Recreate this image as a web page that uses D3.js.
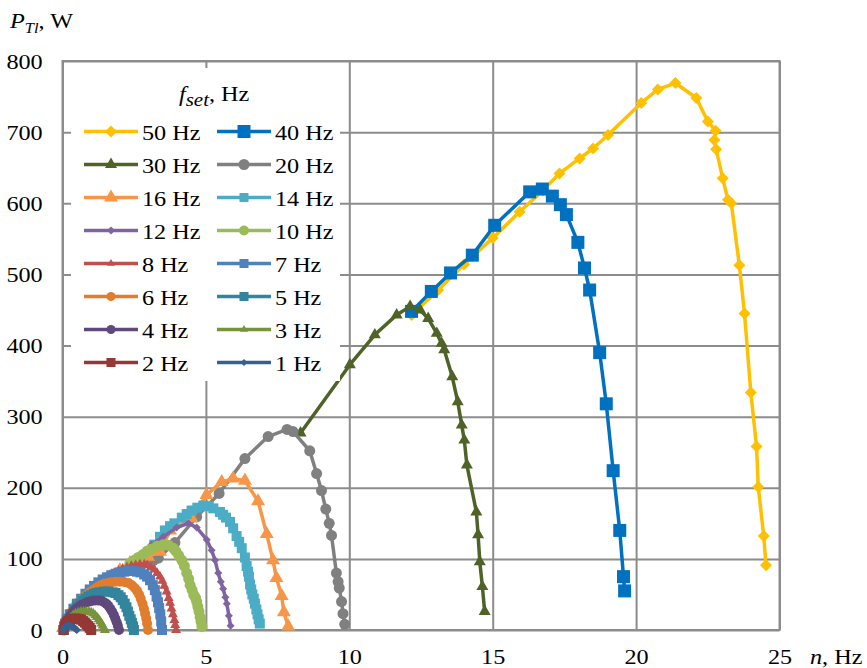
<!DOCTYPE html>
<html>
<head>
<meta charset="utf-8">
<script src="https://cdn.jsdelivr.net/npm/d3@7"></script>
<style>
  body { margin: 0; background: #fff; }
  svg { display: block; }
  svg text { font-family: "Liberation Serif", "Times New Roman", Times, serif; }
</style>
</head>
<body>
<div id="chart"></div>
<script>
// tick values
var xTicks = [0, 5, 10, 15, 20, 25];
var yTicks = [0, 100, 200, 300, 400, 500, 600, 700, 800];

// series, [n Hz, P W]
var s50 = [[12.17,443],[13.1,478],[14.0,514],[15.0,551],[15.94,588],[16.75,618],[17.33,642],[18.03,663],[18.5,677],[19.02,696],[20.18,741],[20.76,760],[21.37,769],[22.1,748],[22.5,715],[22.77,702],[22.73,689],[22.79,676],[23.02,635],[23.2,605],[23.32,600],[23.6,513],[23.78,445],[24.0,334],[24.2,258],[24.26,201],[24.45,132],[24.53,91]];
var s40 = [[12.17,448],[12.86,476],[13.53,502],[14.29,527],[15.07,569],[16.29,616],[16.73,620],[17.08,610],[17.36,598],[17.57,584],[17.97,545],[18.2,509],[18.38,478],[18.73,390],[18.96,318],[19.2,224],[19.43,140],[19.56,75],[19.6,55]];
var s30 = [[8.3,277],[10.02,373],[10.89,415],[11.65,443],[12.12,455],[12.47,450],[12.75,438],[13.05,417],[13.22,403],[13.31,394],[13.59,356],[13.78,321],[13.92,288],[14.01,267],[14.1,232],[14.43,166],[14.49,134],[14.55,96],[14.64,61],[14.72,26]];
var s20 = [[0.05,0],[0.5,24],[1.0,45],[1.5,63],[2.0,78],[2.6,91],[3.17,98],[3.34,101],[3.92,123],[4.68,159],[5.46,192],[6.36,241],[7.17,272],[7.83,282],[8.04,279],[8.62,252],[8.86,220],[9.03,196],[9.18,170],[9.3,150],[9.38,133],[9.55,80],[9.61,68],[9.65,59],[9.73,40],[9.78,23],[9.84,8]];
var s16 = [[0.02,3],[0.61,33],[0.96,49],[1.48,70],[2.0,84],[2.35,94],[2.98,103],[3.4,110],[3.75,140],[4.5,157],[5.02,190],[5.55,208],[5.95,213],[6.36,210],[6.82,181],[7.12,135],[7.34,98],[7.46,73],[7.64,48],[7.72,25],[7.87,5]];
var s14 = [[3.2,120],[3.4,131],[3.57,140],[3.75,146],[3.9,150],[4.16,158],[4.33,163],[4.5,168],[4.7,172],[4.91,175],[5.1,174],[5.26,171],[5.49,166],[5.6,162],[5.7,158],[5.84,152],[5.95,143],[6.07,132],[6.16,124],[6.25,115],[6.36,102],[6.42,90],[6.47,82],[6.5,75],[6.54,64],[6.58,57],[6.62,50],[6.67,44],[6.71,37],[6.76,29],[6.8,22],[6.84,15],[6.88,9]];
var s12 = [[2.7,105],[3.1,120],[3.51,131],[3.98,144],[4.39,150],[4.68,144],[5.03,127],[5.2,112],[5.32,98],[5.43,80],[5.52,68],[5.6,58],[5.68,46],[5.73,37],[5.8,20],[5.86,6]];
var s10 = [[2.35,94],[2.5,98],[2.64,102],[2.8,106],[2.95,111],[3.1,114],[3.3,118],[3.51,120],[3.7,119],[3.86,115],[3.95,111],[4.05,105],[4.16,98],[4.25,90],[4.33,80],[4.4,72],[4.45,63],[4.52,56],[4.58,49],[4.64,45],[4.68,40],[4.72,33],[4.76,26],[4.8,18],[4.83,12],[4.86,5]];
var s8 = [[0.05,0],[0.15,14],[0.3,25],[0.45,33],[0.6,41],[0.75,48],[0.9,54],[1.05,60],[1.2,65],[1.35,69],[1.5,73],[1.65,77],[1.8,80],[1.95,83],[2.1,86],[2.25,88],[2.4,90],[2.55,91],[2.7,92],[2.85,92],[2.95,91],[3.08,88],[3.2,85],[3.3,80],[3.4,75],[3.48,69],[3.55,62],[3.63,54],[3.7,45],[3.75,38],[3.8,30],[3.85,22],[3.9,14],[3.93,7],[3.96,0]];
var s7 = [[0.05,0],[0.15,14],[0.25,22],[0.38,30],[0.5,37],[0.65,44],[0.8,51],[0.95,57],[1.1,62],[1.25,67],[1.4,71],[1.55,74],[1.7,77],[1.85,79],[2.0,81],[2.15,82],[2.3,83],[2.45,83],[2.6,82],[2.72,81],[2.85,78],[2.95,75],[3.05,70],[3.15,63],[3.22,56],[3.28,47],[3.33,39],[3.37,31],[3.41,22],[3.44,12],[3.47,0]];
var s6 = [[0.05,0],[0.12,11],[0.2,18],[0.32,26],[0.45,33],[0.58,39],[0.7,44],[0.82,49],[0.95,53],[1.08,57],[1.2,60],[1.32,63],[1.45,65],[1.58,66],[1.7,67],[1.85,68],[2.0,68],[2.15,67.5],[2.3,66],[2.42,63],[2.52,59],[2.6,55],[2.67,50],[2.73,44],[2.79,37],[2.84,30],[2.88,23],[2.92,16],[2.95,9],[2.98,0]];
var s5 = [[0.05,0],[0.1,9],[0.2,16],[0.3,22],[0.4,28],[0.5,33],[0.6,37],[0.7,41],[0.8,44],[0.9,47],[1.0,49],[1.1,51],[1.2,52],[1.3,53],[1.45,54],[1.6,54],[1.75,53],[1.85,52],[1.95,49],[2.03,46],[2.1,42],[2.17,37],[2.23,32],[2.28,26],[2.33,20],[2.38,15],[2.42,10],[2.46,5],[2.49,0]];
var s4 = [[0.05,0],[0.1,7],[0.18,14],[0.27,20],[0.36,25],[0.45,29],[0.55,32],[0.65,35],[0.75,37],[0.85,39],[0.95,40],[1.05,41],[1.15,41.5],[1.25,41.5],[1.35,41],[1.45,39],[1.53,37],[1.6,34],[1.67,30],[1.73,26],[1.79,21],[1.84,16],[1.89,11],[1.93,6],[1.97,0]];
var s3 = [[0.05,0],[0.09,6],[0.15,11],[0.22,15],[0.3,18],[0.38,21],[0.46,23],[0.55,24.5],[0.64,25.5],[0.73,26],[0.82,26],[0.92,25.5],[1.0,24.5],[1.07,23],[1.14,20.5],[1.2,18],[1.26,15],[1.31,12],[1.36,9],[1.4,6],[1.44,3],[1.48,0]];
var s2 = [[0.03,0],[0.06,5],[0.1,8],[0.15,11],[0.2,12.5],[0.27,14],[0.34,15.5],[0.42,16],[0.5,16],[0.58,15.5],[0.65,14.5],[0.72,12.5],[0.78,10.5],[0.84,8],[0.9,5.5],[0.95,3],[1.0,0]];
var s1 = [[0.03,0],[0.06,3],[0.1,4.5],[0.15,5.5],[0.2,6],[0.26,6],[0.32,5],[0.38,4],[0.43,2.5],[0.47,1],[0.5,0]];

// legend labels, in legend order (row by row)
var seriesNames = ["50 Hz","40 Hz","30 Hz","20 Hz","16 Hz","14 Hz","12 Hz","10 Hz","8 Hz","7 Hz","6 Hz","5 Hz","4 Hz","3 Hz","2 Hz","1 Hz"];
var seriesData = [s50, s40, s30, s20, s16, s14, s12, s10, s8, s7, s6, s5, s4, s3, s2, s1];
var seriesColors = ["#ffc000","#0070c0","#4f6228","#808080","#f79646","#4bacc6","#8064a2","#9bbb59","#c0504d","#4f81bd","#e07d2e","#31859c","#5f497a","#77933c","#953735","#376092"];
var seriesShapes = ["diamond","square","triangle","circle","triangle","square","diamond","circle","triangle","square","circle","square","circle","triangle","square","diamond"];
var seriesSizes = [12, 13, 12, 11, 14, 10, 8, 11, 10, 10, 10, 10, 10, 10, 10, 8];
var legendSizes = [12, 13, 12, 11, 14, 9, 8, 10, 8, 9, 9, 9, 9, 8, 9, 7];

(function(){
    var W = 867, H = 668;
    var x0 = 62.5, x1 = 779.5, y0 = 630, y1 = 61;
    var gridColor = "#8c8c8c";
    var serif = "'Liberation Serif', 'Times New Roman', Times, serif";
    var stretch = "scale(1.1,1)"; // the source text is a bit wide

    var svg = d3.select("#chart").append("svg")
	.attr("width", W)
	.attr("height", H)
	.attr("font-family", serif);

    var x = d3.scaleLinear().domain([0, 25]).range([x0, x1]);
    var y = d3.scaleLinear().domain([0, 800]).range([y0, y1]);

    //grid + axes
    var xAxis = d3.axisBottom(x).tickValues(xTicks).tickFormat(d3.format("d"))
	.tickSize(-(y0 - y1)).tickPadding(18);
    var yAxis = d3.axisLeft(y).tickValues(yTicks).tickFormat(d3.format("d"))
	.tickSize(-(x1 - x0)).tickPadding(18);

    var gx = svg.append("g").attr("transform", "translate(0," + y0 + ")").call(xAxis);
    var gy = svg.append("g").attr("transform", "translate(" + x0 + ",0)").call(yAxis);
    _styleAxis(gx);
    _styleAxis(gy);

    function _styleAxis(g){
	g.attr("font-family", serif).attr("font-size", 22);
	g.select(".domain").remove();
	g.selectAll(".tick line")
	    .attr("stroke", gridColor)
	    .attr("stroke-width", 2);
	g.selectAll(".tick text")
	    .attr("fill", "#000")
	    .attr("transform", stretch);
    }

    //plot border
    svg.append("rect")
	.attr("x", x0).attr("y", y1)
	.attr("width", x1 - x0).attr("height", y0 - y1)
	.attr("fill", "none")
	.attr("stroke", gridColor)
	.attr("stroke-width", 2);

    // text placed at (px,py), stretched a little sideways
    function label(parent, px, py, size){
	return parent.append("text")
	    .attr("transform", "translate(" + px + "," + py + ") " + stretch)
	    .attr("font-size", size);
    }

    //axis titles
    var yt = label(svg, 10, 28, 22);
    yt.append("tspan").attr("font-style", "italic").text("P");
    yt.append("tspan").attr("font-style", "italic").attr("dy", 5).attr("font-size", 15).text("Tl");
    yt.append("tspan").attr("dy", -5).text(", W");

    var xt = label(svg, 810, 664, 22);
    xt.append("tspan").attr("font-style", "italic").text("n");
    xt.append("tspan").text(", Hz");

    //series, drawn 50 Hz first so small ones end on top
    var line = d3.line()
	.x(function(d){ return x(d[0]); })
	.y(function(d){ return y(d[1]); });

    var plot = svg.append("g");
    seriesData.forEach(function(data, i){
	var g = plot.append("g");
	g.append("path")
	    .attr("d", line(data))
	    .attr("fill", "none")
	    .attr("stroke", seriesColors[i])
	    .attr("stroke-width", 3.5)
	    .attr("stroke-linejoin", "round");
	g.selectAll("path.mk").data(data).enter().append("path")
	    .attr("class", "mk")
	    .attr("d", markerPath(seriesShapes[i], seriesSizes[i]))
	    .attr("transform", function(d){
		return "translate(" + x(d[0]) + "," + y(d[1]) + ")" +
		    (seriesShapes[i] == "diamond" ? " rotate(45)" : "");
	    })
	    .attr("fill", seriesColors[i]);
    });

    function markerPath(shape, s){
	var type, area;
	if (shape == "square" || shape == "diamond"){
	    type = d3.symbolSquare;
	    area = shape == "diamond" ? s * s / 2 : s * s;
	} else if (shape == "triangle"){
	    type = d3.symbolTriangle;
	    area = s * s * 0.433;
	} else {
	    type = d3.symbolCircle;
	    area = Math.PI * s * s / 4;
	}
	return d3.symbol().type(type).size(area)();
    }

    //Legend
    var lg = svg.append("g");
    lg.append("rect")
	.attr("x", 71).attr("y", 68)
	.attr("width", 269).attr("height", 313)
	.attr("fill", "#fff");

    var lt = label(lg, 179, 101, 22);
    lt.append("tspan").attr("font-style", "italic").text("f");
    lt.append("tspan").attr("font-style", "italic").attr("dy", 5).attr("font-size", 19).text("set");
    lt.append("tspan").attr("dy", -5).text(", Hz");

    var colX = [84, 217];
    seriesNames.forEach(function(name, i){
	var cx = colX[i % 2];
	var cy = 131.5 + Math.floor(i / 2) * 33;
	var e = lg.append("g");
	e.append("line")
	    .attr("x1", cx).attr("x2", cx + 54)
	    .attr("y1", cy).attr("y2", cy)
	    .attr("stroke", seriesColors[i])
	    .attr("stroke-width", 3.5);
	e.append("path")
	    .attr("d", markerPath(seriesShapes[i], legendSizes[i]))
	    .attr("transform", "translate(" + (cx + 27) + "," + cy + ")" +
		  (seriesShapes[i] == "diamond" ? " rotate(45)" : ""))
	    .attr("fill", seriesColors[i]);
	label(e, cx + 58, cy + 8, 22).text(name);
    });
})();
</script>
</body>
</html>
